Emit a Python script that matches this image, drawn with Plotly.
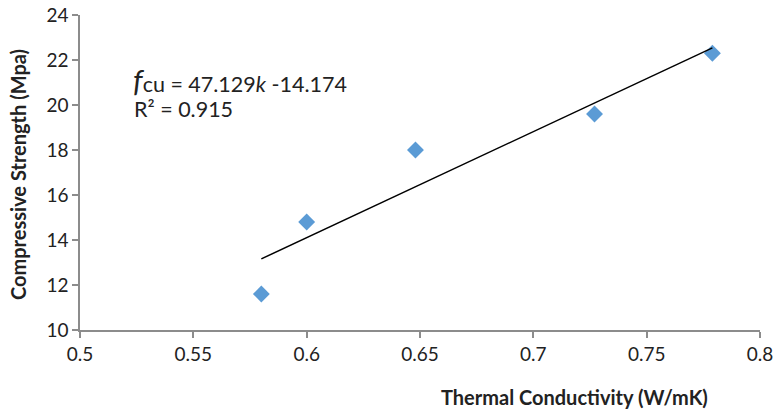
import plotly.graph_objects as go

conductivity = [0.58, 0.60, 0.648, 0.727, 0.779]
strength = [11.6, 14.8, 18.0, 19.6, 22.3]
slope = 47.129
intercept = -14.174
r_squared = 0.915

x_ticks = [0.5, 0.55, 0.6, 0.65, 0.7, 0.75, 0.8]
y_ticks = [10, 12, 14, 16, 18, 20, 22, 24]

trend_x = [min(conductivity), max(conductivity)]
trend_y = [slope * v + intercept for v in trend_x]

FONT = "Lato"
AXIS_COLOR = "#8c8c8c"

fig = go.Figure()
fig.add_trace(go.Scatter(
    x=conductivity, y=strength, mode="markers",
    marker=dict(symbol="diamond", size=13, color="#5b9bd5"),
    showlegend=False, hoverinfo="x+y"))
fig.add_trace(go.Scatter(
    x=trend_x, y=trend_y, mode="lines",
    line=dict(color="black", width=1.5),
    showlegend=False, hoverinfo="skip"))

fig.update_layout(
    width=775, height=410,
    margin=dict(l=80, r=15, t=15, b=80),
    paper_bgcolor="white", plot_bgcolor="white",
    font=dict(family=FONT, size=19, color="#222222"),
    xaxis=dict(range=[0.5, 0.8], tickvals=x_ticks,
               ticktext=[f"{v:g}" for v in x_ticks],
               showgrid=False, zeroline=False, showline=True,
               linecolor=AXIS_COLOR, linewidth=1.5,
               ticks="outside", ticklen=6, tickcolor=AXIS_COLOR,
               tickwidth=1.5, tickfont=dict(size=19), automargin=False),
    yaxis=dict(range=[10, 24], tickvals=y_ticks,
               showgrid=False, zeroline=False, showline=True,
               linecolor=AXIS_COLOR, linewidth=1.5,
               ticks="outside", ticklen=6, tickcolor=AXIS_COLOR,
               tickwidth=1.5, tickfont=dict(size=19), automargin=False),
    annotations=[
        dict(xref="paper", yref="paper", x=(574 - 80) / 680, y=(330 - 397) / 315,
             text="<b>Thermal Conductivity (W/mK)</b>", showarrow=False,
             xanchor="center", yanchor="middle", font=dict(size=20)),
        dict(xref="paper", yref="paper", x=(18 - 80) / 680, y=(330 - 175) / 315,
             text="<b>Compressive Strength (Mpa)</b>", showarrow=False,
             textangle=-90, xanchor="center", yanchor="middle", font=dict(size=20)),
        dict(xref="paper", yref="paper", x=(131 - 80) / 680, y=(330 - 80) / 315,
             text=f"<i><span style='font-size:30px'>f</span></i>cu = {slope}<i>k</i> {intercept}",
             showarrow=False, xanchor="left", yanchor="middle", font=dict(size=21.5)),
        dict(xref="paper", yref="paper", x=(132 - 80) / 680, y=(330 - 109) / 315,
             text=f"R² = {r_squared}",
             showarrow=False, xanchor="left", yanchor="middle", font=dict(size=21.5)),
    ],
)

fig.write_html("out.html", config={"displayModeBar": False},
               post_script="document.body.style.margin='0';document.body.style.overflow='hidden';")
